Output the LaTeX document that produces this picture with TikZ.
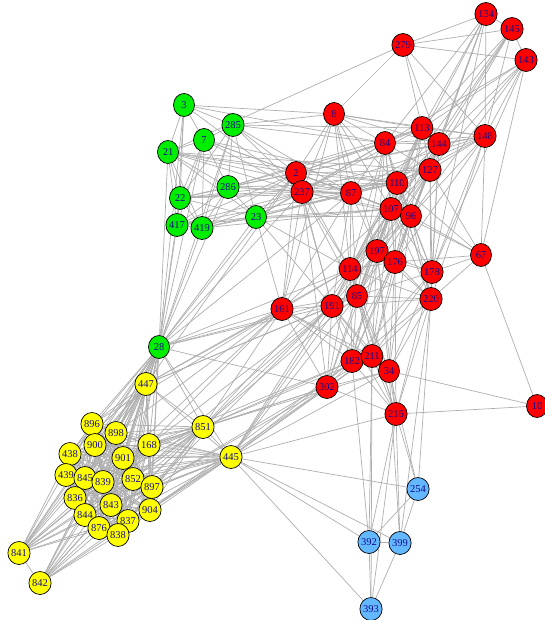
\documentclass[tikz,border=0pt]{standalone}
\usepackage{fontspec}
\setmainfont{Liberation Serif}
\usetikzlibrary{shapes.geometric}
\pgfdeclarelayer{edges}
\pgfsetlayers{edges,main}
\definecolor{vred}{RGB}{255,0,0}
\definecolor{vgreen}{RGB}{0,238,0}
\definecolor{vyellow}{RGB}{255,255,0}
\definecolor{vblue}{RGB}{99,184,255}
\definecolor{edgegray}{RGB}{175,175,175}
\definecolor{labelblue}{RGB}{20,10,140}
\tikzset{
  vtx/.style={ellipse,draw=black,line width=0.7pt,minimum width=21pt,minimum height=23pt,
    inner sep=0pt,text=labelblue,font=\fontsize{10.5}{11}\selectfont},
  rv/.style={vtx,fill=vred},
  gv/.style={vtx,fill=vgreen},
  yv/.style={vtx,fill=vyellow},
  bv/.style={vtx,fill=vblue},
  edge/.style={draw=edgegray,line width=0.7pt},
}
\begin{document}
\begin{tikzpicture}[x=1pt,y=-1pt]
\useasboundingbox (0,0) rectangle (544,620);
\begin{pgfonlayer}{edges}
\fill[white] (0,0) rectangle (544,620);
\end{pgfonlayer}

% ---- vertices, red community
\foreach \n/\x/\y in {134/486/14,145/512/29,143/526/60,279/403/45,113/422/128,84/385/143,
  144/439/144,148/485/136,8/334/114,2/296/173,237/302/192,87/351/193,110/397/183,127/430/170,
  107/391/209,96/411/216,197/377/251,176/395/262,114/350/269,178/432/272,67/481/255,85/357/296,
  220/431/299,191/332/306,161/282/309,182/352/361,211/372/356,34/389/371,302/327/387,216/396/414,10/537/406}
  \node[rv] (v\n) at (\x,\y) {\n};
% ---- green community
\foreach \n/\x/\y in {3/184/105,285/233/125,7/204/140,21/168/152,286/228/187,22/180/198,
  23/256/217,417/177/225,419/202/228,28/159/347}
  \node[gv] (v\n) at (\x,\y) {\n};
% ---- yellow community
\foreach \n/\x/\y in {447/146/384,896/92/424,898/116/433,900/95/445,168/149/445,438/70/454,
  901/123/458,439/66/475,845/85/478,839/103/482,852/133/479,897/152/487,836/75/498,843/111/505,
  844/85/515,904/150/510,837/128/521,876/99/528,838/118/535,841/19/553,842/40/583,851/203/427,445/231/457}
  \node[yv] (v\n) at (\x,\y) {\n};
% ---- blue community
\foreach \n/\x/\y in {254/418/489,392/369/542,399/400/543,393/371/609}
  \node[bv] (v\n) at (\x,\y) {\n};

% ---- edges, drawn on the layer behind the vertices
\begin{pgfonlayer}{edges}
% yellow core: every pair joined
\foreach \a [count=\i] in {896,898,900,168,438,901,439,845,839,852,897,836,843,844,904,837,876,838}{
  \foreach \b [count=\j] in {896,898,900,168,438,901,439,845,839,852,897,836,843,844,904,837,876,838}{
    \ifnum\j>\i \draw[edge] (v\a) -- (v\b); \fi}}
% yellow core to its hubs
\foreach \a in {896,898,900,168,438,901,439,845,839,852,897,836,843,844,904,837,876,838}{
  \draw[edge] (v\a) -- (v28);
  \draw[edge] (v\a) -- (v447);
  \draw[edge] (v\a) -- (v851);
  \draw[edge] (v\a) -- (v445);}
\foreach \a in {896,898,900,168,438,901,845,839,852,897,843,904,837}{
  \draw[edge] (v\a) -- (v841);}
\foreach \a in {898,168,901,852,897,904,837,839,843,838}{
  \draw[edge] (v\a) -- (v842);}
\foreach \a/\b in {841/842,841/28,842/28,841/447,842/447,842/851,841/851,28/447,28/851,28/445,447/851,447/445,851/445,
  447/161,447/191,447/85,447/114,447/2,851/161,851/191,851/302,851/182,851/211,851/34,851/85,851/114,
  445/302,445/182,445/211,445/34,445/216,445/191,445/85,445/114,445/254,445/392,445/399,445/393,445/197,
  168/302,168/182,168/161,897/302,897/191,852/191,904/302,901/161,898/161,896/161,168/191,904/182,897/211,
  28/161,28/191,28/85,28/114,28/2,28/237,28/23,28/286,28/3,28/7,28/21,28/22,28/417,28/419,28/285,28/302,28/87,
  3/7,3/21,3/22,3/285,3/417,3/8,3/84,7/21,7/285,7/22,7/419,7/417,7/286,21/22,21/417,21/419,21/286,21/23,
  22/417,22/419,22/286,22/23,285/286,285/419,285/22,285/23,286/23,286/417,286/419,417/419,419/23,417/23,
  285/8,285/2,285/84,285/237,285/87,7/2,7/237,7/87,21/2,21/237,21/279,21/87,21/110,286/2,286/237,286/87,
  286/110,286/84,286/113,22/2,22/237,22/87,23/2,23/237,23/87,23/110,23/107,23/96,23/84,23/161,23/191,23/114,
  417/2,417/237,417/110,419/2,419/237,419/87,419/107,417/107,22/110,22/127,21/127,285/113,7/110,3/237,
  279/134,279/145,279/143,279/113,279/144,279/148,279/8,
  134/145,134/148,134/113,134/144,134/127,134/84,134/110,134/96,134/178,
  145/143,145/148,145/113,145/144,145/127,145/110,145/107,
  143/148,143/113,143/84,143/144,143/127,143/96,143/67,143/178,
  148/113,148/144,148/84,148/127,148/110,148/67,148/178,148/8,148/2,148/237,148/87,148/220,148/96,148/176,
  113/84,113/144,113/127,113/110,113/107,113/96,113/2,113/237,113/8,113/176,113/197,113/114,113/85,
  84/8,84/2,84/237,84/87,84/110,84/107,84/96,84/197,84/114,84/144,84/127,84/176,84/85,84/220,
  144/127,144/110,144/107,144/96,144/197,144/176,144/114,144/178,144/220,144/2,144/87,144/8,
  8/2,8/237,8/110,8/87,8/107,8/114,8/197,8/161,
  2/237,2/87,2/110,2/127,2/107,2/161,2/191,2/114,
  237/87,237/110,237/107,237/161,237/191,237/302,237/114,237/85,237/96,
  87/110,87/107,87/96,87/127,87/114,87/191,87/85,87/161,87/197,
  110/127,110/107,110/96,110/197,110/176,110/114,110/85,110/178,110/220,110/191,
  127/107,127/96,127/197,127/176,127/178,127/114,127/220,127/67,127/85,127/182,
  107/96,107/197,107/176,107/114,107/85,107/191,107/161,107/178,107/220,107/182,107/211,107/302,
  96/197,96/176,96/178,96/220,96/67,96/85,96/114,96/211,96/34,
  197/176,197/114,197/85,197/191,197/178,197/220,197/182,197/211,197/34,197/216,
  176/114,176/178,176/220,176/85,176/182,176/211,176/34,176/216,176/302,
  114/85,114/191,114/161,114/182,114/211,114/34,114/302,114/216,114/220,
  178/67,178/220,178/85,178/216,178/34,178/211,178/182,
  67/220,67/176,67/110,67/107,67/10,
  220/85,220/216,220/34,220/211,220/182,220/191,
  85/191,85/161,85/182,85/211,85/34,85/302,85/216,
  191/161,191/182,191/302,191/211,191/216,191/34,
  161/182,161/302,161/211,161/34,
  182/211,182/34,182/302,182/216,211/34,211/302,211/216,34/216,34/10,34/302,216/10,216/302,
  254/216,254/392,254/399,254/34,392/399,392/393,399/393,392/216,399/216,393/216,
  392/211,392/182,393/211,399/34,399/220,254/220}
  \draw[edge] (v\a) -- (v\b);
\end{pgfonlayer}
\end{tikzpicture}
\end{document}
